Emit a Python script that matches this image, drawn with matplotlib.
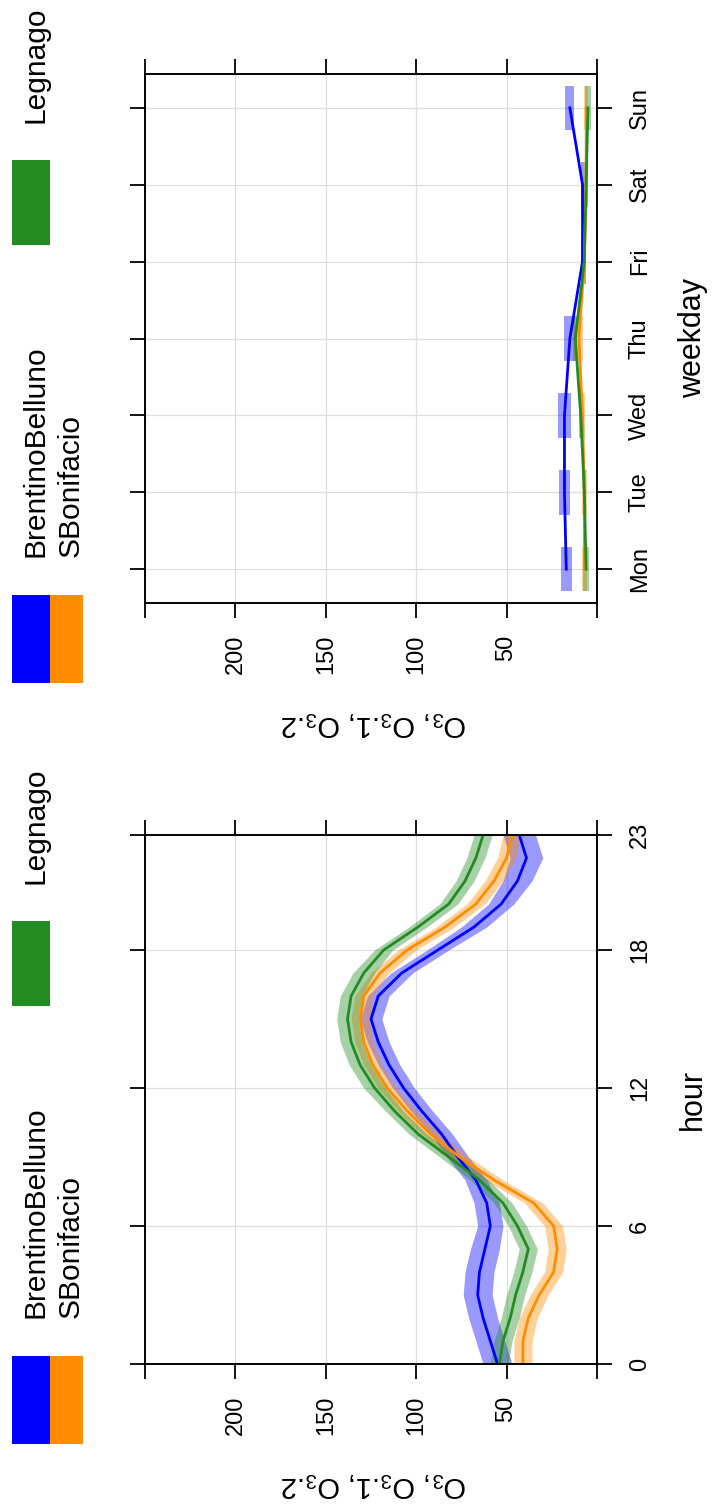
import matplotlib
matplotlib.use("Agg")
import matplotlib.pyplot as plt
from matplotlib.patches import Rectangle
import numpy as np

plt.rcParams['font.family'] = ['Liberation Sans', 'DejaVu Sans']
plt.rcParams['mathtext.fontset'] = 'custom'
plt.rcParams['mathtext.rm'] = 'Liberation Sans'
plt.rcParams['mathtext.it'] = 'Liberation Sans:italic'

# --- data -------------------------------------------------------------
sites = ['BrentinoBelluno', 'SBonifacio', 'Legnago']
colors = ['#0000FF', '#FF8C00', '#228B22']

hours = list(range(24))
hour_brentino = [55, 59, 63, 66, 65, 62, 59, 61, 67, 77, 86, 97,
                 107, 115, 121, 125, 121, 108, 88, 68, 53, 44, 39, 43]
hour_bonifacio = [41, 41, 38, 32, 24, 22, 24, 35, 57, 76, 92, 105,
                  116, 124, 129, 131, 129, 120, 105, 84, 67, 57, 50, 47]
hour_legnago = [54, 52, 48, 45, 41, 38, 44, 52, 65, 82, 99, 112,
                123, 131, 136, 138, 136, 129, 118, 99, 82, 73, 67, 63]
hour_ci = [[8, 8, 8, 8, 8, 8, 7, 7, 6, 6, 6, 6, 6, 6, 6, 6, 6, 6, 6, 7, 7, 8, 9, 9],
           [5, 5, 5, 5, 5, 5, 5, 5, 5, 5, 5, 5, 5, 5, 5, 5, 5, 5, 5, 5, 5, 5, 5, 5],
           [5, 5, 5, 5, 5, 5, 5, 5, 5, 5, 5, 5, 6, 6, 6, 6, 6, 6, 5, 5, 5, 5, 5, 5]]

weekdays = ['Mon', 'Tue', 'Wed', 'Thu', 'Fri', 'Sat', 'Sun']
wday_brentino = [17, 18, 18, 15, 8, 8, 15]
wday_bonifacio = [7, 7, 8, 10, 7, 6, 6]
wday_legnago = [6, 7, 9, 12, 7, 6, 5]
wday_ci = [[3, 3, 3.5, 3, 1, 1, 2.5],
           [1.5, 1.5, 1.5, 2.5, 1, 1, 1],
           [1.5, 1, 1, 1, 1, 1, 1.5]]

hour_series = [hour_brentino, hour_bonifacio, hour_legnago]
wday_series = [wday_brentino, wday_bonifacio, wday_legnago]

# --- layout (pixel based, picture is rotated 90 degrees) ---------------
W, H = 712, 1510
SHIFT = 761  # vertical offset between the two stacked panels


def box(x0, y0, x1, y1):
    return [x0 / W, 1 - y1 / H, (x1 - x0) / W, (y1 - y0) / H]


fig = plt.figure(figsize=(W / 100, H / 100), dpi=100)
ax_w = fig.add_axes(box(145, 74, 597, 603))
ax_h = fig.add_axes(box(145, 74 + SHIFT, 597, 603 + SHIFT))


def style(ax, yticks, ylabels, ylim):
    ax.set_xlim(250, 0)
    ax.set_xticks([0, 50, 100, 150, 200, 250])
    ax.set_xticklabels(['', '50', '100', '150', '200', ''], rotation=90)
    ax.set_ylim(*ylim)
    ax.set_yticks(yticks)
    ax.set_yticklabels(ylabels, rotation=90, va='center')
    ax.tick_params(direction='out', length=11, width=1.3, labelsize=17,
                   top=True, bottom=True, left=True, right=True,
                   labelleft=False, labelright=True, pad=12)
    ax.grid(color='#dedede', lw=0.9)
    ax.set_axisbelow(True)
    for sp in ax.spines.values():
        sp.set_linewidth(1.4)


# weekday panel
for vals, ci, col in zip(wday_series, wday_ci, colors):
    v = np.array(vals)
    c = np.array(ci)
    ax_w.barh(range(1, 8), 2 * c, left=v - c, height=0.58, color=col,
              alpha=0.4, lw=0)
for vals, col in zip(wday_series, colors):
    ax_w.plot(vals, range(1, 8), color=col, lw=2)
style(ax_w, range(1, 8), weekdays, (0.56, 7.44))

# hour panel
for vals, ci, col in zip(hour_series, hour_ci, colors):
    v = np.array(vals)
    c = np.array(ci)
    ax_h.fill_betweenx(hours, v - c, v + c, color=col, alpha=0.4, lw=0)
for vals, col in zip(hour_series, colors):
    ax_h.plot(vals, hours, color=col, lw=2)
style(ax_h, [0, 6, 12, 18, 23], ['0', '6', '12', '18', '23'], (0, 23))

# axis titles and legends
ylab = r'O$_\mathrm{3}$, O$_\mathrm{3}$.1, O$_\mathrm{3}$.2'
for off, xlab, ymid in [(0, 'weekday', 338), (SHIFT, 'hour', 338)]:
    fig.text(693 / W, 1 - (ymid + off) / H, xlab, rotation=90,
             ha='center', va='center', fontsize=22)
    fig.text(374 / W, 1 - (723 + off) / H, ylab, rotation=180,
             ha='center', va='center', fontsize=21)
    # key rectangles
    for (x0, x1, y0, y1, col) in [(12, 50, 595, 683, colors[0]),
                                  (50, 83, 595, 683, colors[1]),
                                  (12, 50, 160, 245, colors[2])]:
        fig.add_artist(Rectangle((x0 / W, 1 - (y1 + off) / H),
                                 (x1 - x0) / W, (y1 - y0) / H,
                                 transform=fig.transFigure,
                                 facecolor=col, edgecolor='none'))
    fig.text(36 / W, 1 - (557 + off) / H, sites[0], rotation=90,
             ha='center', va='bottom', fontsize=21.5)
    fig.text(71 / W, 1 - (557 + off) / H, sites[1], rotation=90,
             ha='center', va='bottom', fontsize=21.5)
    fig.text(35 / W, 1 - (123 + off) / H, sites[2], rotation=90,
             ha='center', va='bottom', fontsize=21.5)

fig.savefig('out.png', dpi=100)
